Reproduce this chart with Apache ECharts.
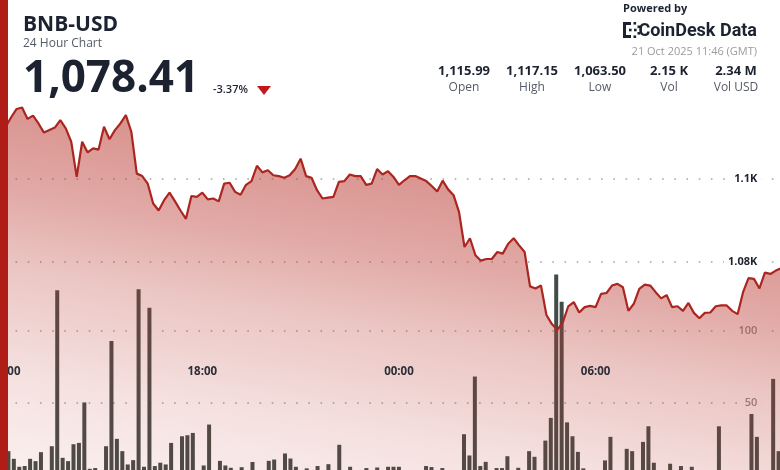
<!DOCTYPE html>
<html>
<head>
<meta charset="utf-8">
<script src="https://cdn.jsdelivr.net/npm/echarts@6/dist/echarts.min.js"></script>
<style>
html,body{margin:0;padding:0;background:#fff;}
#chart{width:780px;height:470px;}
</style>
</head>
<body>
<div id="chart"></div>
<script>
// ---- data (10-minute steps, 24 hours) ----
const times = [
  '12:00','12:10','12:20','12:30','12:40','12:50',
  '13:00','13:10','13:20','13:30','13:40','13:50',
  '14:00','14:10','14:20','14:30','14:40','14:50',
  '15:00','15:10','15:20','15:30','15:40','15:50',
  '16:00','16:10','16:20','16:30','16:40','16:50',
  '17:00','17:10','17:20','17:30','17:40','17:50',
  '18:00','18:10','18:20','18:30','18:40','18:50',
  '19:00','19:10','19:20','19:30','19:40','19:50',
  '20:00','20:10','20:20','20:30','20:40','20:50',
  '21:00','21:10','21:20','21:30','21:40','21:50',
  '22:00','22:10','22:20','22:30','22:40','22:50',
  '23:00','23:10','23:20','23:30','23:40','23:50',
  '00:00','00:10','00:20','00:30','00:40','00:50',
  '01:00','01:10','01:20','01:30','01:40','01:50',
  '02:00','02:10','02:20','02:30','02:40','02:50',
  '03:00','03:10','03:20','03:30','03:40','03:50',
  '04:00','04:10','04:20','04:30','04:40','04:50',
  '05:00','05:10','05:20','05:30','05:40','05:50',
  '06:00','06:10','06:20','06:30','06:40','06:50',
  '07:00','07:10','07:20','07:30','07:40','07:50',
  '08:00','08:10','08:20','08:30','08:40','08:50',
  '09:00','09:10','09:20','09:30','09:40','09:50',
  '10:00','10:10','10:20','10:30','10:40','10:50',
  '11:00','11:10','11:20','11:30','11:40'
];

const prices = [
  1112.5, 1114.8, 1116.8, 1117.15, 1114.4, 1115.2, 1113.3, 1111.1, 1111.7, 1112.3,
  1114.1, 1112.1, 1108.9, 1100.4, 1108.9, 1106.3, 1107.3, 1107.0, 1112.5, 1109.5,
  1111.7, 1113.3, 1115.3, 1111.3, 1101.2, 1100.6, 1098.8, 1094.0, 1092.3, 1094.8,
  1096.6, 1094.5, 1092.3, 1090.3, 1095.8, 1095.6, 1096.6, 1095.0, 1095.2, 1094.5,
  1098.8, 1099.0, 1096.8, 1096.1, 1098.5, 1099.4, 1103.1, 1101.5, 1102.0, 1100.8,
  1100.6, 1100.2, 1100.8, 1102.3, 1104.8, 1100.6, 1100.2, 1097.2, 1095.2, 1095.4,
  1095.6, 1099.2, 1099.4, 1101.0, 1100.6, 1100.6, 1098.5, 1098.8, 1102.3, 1101.0,
  1101.8, 1100.4, 1098.5, 1099.6, 1100.6, 1100.6, 1100.0, 1099.4, 1098.2, 1096.9,
  1099.5, 1097.4, 1096.0, 1091.9, 1083.5, 1085.6, 1081.5, 1080.2, 1080.6, 1080.6,
  1082.3, 1081.9, 1084.3, 1085.6, 1083.9, 1082.3, 1074.0, 1073.5, 1074.2, 1067.1,
  1064.9, 1063.5, 1065.3, 1069.2, 1070.2, 1067.7, 1069.0, 1069.3, 1069.0, 1072.2,
  1072.4, 1074.2, 1074.6, 1073.8, 1068.1, 1069.8, 1073.4, 1074.4, 1074.2, 1072.6,
  1071.1, 1071.9, 1069.0, 1069.2, 1068.1, 1070.0, 1067.6, 1066.3, 1067.6, 1067.7,
  1069.2, 1069.4, 1069.4, 1068.1, 1067.3, 1072.6, 1076.0, 1075.8, 1073.5, 1077.3,
  1077.0, 1077.8, 1078.41
];

const volumes = [
  16.7, 11.4, 5.9, 6.4, 11.4, 9.8, 16.0, 2.5, 20.1, 128.0,
  12.1, 9.8, 21.5, 22.4, 50.4, 4.5, 5.0, 2.0, 20.1, 92.9,
  25.2, 16.7, 7.5, 10.5, 128.7, 5.9, 115.8, 6.4, 8.7, 7.5,
  22.4, 3.0, 27.0, 27.7, 29.3, 2.0, 6.8, 35.1, 2.5, 10.0,
  6.8, 5.2, 1.5, 5.6, 2.0, 9.2, 2.5, 1.5, 10.0, 10.9,
  3.5, 15.1, 11.6, 5.9, 2.0, 4.8, 1.5, 6.4, 2.0, 7.7,
  3.0, 21.1, 2.5, 5.9, 1.5, 2.0, 5.0, 2.5, 5.4, 1.5,
  5.9, 5.9, 5.9, 2.0, 1.5, 3.0, 2.0, 6.4, 5.7, 2.0,
  5.0, 2.5, 1.5, 3.0, 28.4, 13.7, 68.3, 6.4, 9.3, 2.0,
  5.0, 5.0, 13.2, 3.0, 5.2, 3.5, 16.7, 12.8, 2.5, 24.0,
  39.7, 138.8, 120.0, 36.6, 27.0, 16.2, 4.8, 2.0, 3.0, 1.5,
  10.3, 26.6, 2.5, 3.0, 18.3, 16.7, 2.0, 23.1, 33.9, 8.7,
  2.5, 3.0, 8.0, 2.0, 6.4, 1.5, 5.9, 2.0, 3.0, 1.5,
  2.5, 33.9, 2.0, 3.0, 1.5, 2.0, 3.5, 42.4, 26.6, 2.5,
  3.0, 66.7, 16.7
];

const timeTickLabels = ['12:00', '18:00', '00:00', '06:00'];
const priceTicks = [1080, 1100];
const priceTickLabels = ['1.08K', '1.1K'];
const volTicks = [50, 100];
const volTickLabels = ['50', '100'];

const statValues = ['1,115.99', '1,117.15', '1,063.50', '2.15 K', '2.34 M'];
const statNames = ['Open', 'High', 'Low', 'Vol', 'Vol USD'];

// ---- layout / style ----
const FONT = "'Open Sans', 'Noto Sans', sans-serif";
const GL = 5.7, GW = 775.6;
const dotted = { type: [1.6, 10.6], width: 1.5, color: '#a4a4a4', dashOffset: 2.4 };
const tint = (a) => 'rgba(186,58,50,' + a + ')';

const chart = echarts.init(document.getElementById('chart'), null, { renderer: 'canvas' });

const statX = [464, 532, 600, 669, 736];
const statGraphics = [];
statValues.forEach((v, i) => {
  statGraphics.push({ type: 'text', z: 50, style: { text: v, x: statX[i], y: 71.5, textAlign: 'center', textVerticalAlign: 'middle', font: 'bold 13px ' + FONT, fill: '#1c2230' } });
  statGraphics.push({ type: 'text', z: 50, style: { text: statNames[i], x: statX[i], y: 88, textAlign: 'center', textVerticalAlign: 'middle', font: '12px ' + FONT, fill: '#555b66' } });
});

const logoRects = [
  [623, 22, 3, 16], [623, 22, 8, 3], [623, 35, 8, 3],
  [633.5, 22, 2.6, 2.6], [637.5, 25.5, 2.6, 2.6], [629, 28.7, 2.6, 2.6],
  [634, 28.7, 2.6, 2.6], [637.5, 32, 2.6, 2.6], [633.5, 35.4, 2.6, 2.6]
].map(r => ({ type: 'rect', z: 50, shape: { x: r[0], y: r[1], width: r[2], height: r[3] }, style: { fill: '#1c2230' } }));

const option = {
  animation: false,
  backgroundColor: '#ffffff',
  grid: [
    { left: GL, width: GW, top: 95.7, height: 414.5, outerBoundsMode: 'none', containLabel: false },
    { left: GL, width: GW, top: 178.6, height: 82.9, outerBoundsMode: 'none', containLabel: false },
    { left: GL, width: GW, top: 330.7, height: 144.6, outerBoundsMode: 'none', containLabel: false }
  ],
  xAxis: [
    {
      gridIndex: 0, type: 'category', boundaryGap: false, data: times, z: 10,
      axisLine: { show: false }, axisTick: { show: false }, splitLine: { show: false },
      axisLabel: {
        inside: true, margin: 132,
        interval: (idx, val) => timeTickLabels.indexOf(val) >= 0,
        color: '#2b2f3a', fontWeight: 'bold', fontSize: 11.5, fontFamily: FONT
      }
    },
    { gridIndex: 1, type: 'value', min: 0, max: 1, show: false },
    { gridIndex: 2, type: 'category', boundaryGap: true, data: times, show: false }
  ],
  yAxis: [
    { gridIndex: 0, type: 'value', min: 1020, max: 1120, show: false },
    {
      gridIndex: 1, type: 'value', min: 1080, max: 1100, interval: 20, position: 'right',
      axisLine: { show: false }, axisTick: { show: false },
      splitLine: { show: true, lineStyle: dotted },
      axisLabel: {
        inside: true, margin: 20, color: '#1c2230', fontWeight: 'bold', fontSize: 11, fontFamily: FONT,
        backgroundColor: '#ffffff', padding: [2, 4],
        formatter: (v) => { const k = priceTicks.indexOf(v); return k >= 0 ? priceTickLabels[k] : ''; }
      }
    },
    {
      gridIndex: 2, type: 'value', min: 0, max: 100, interval: 50, position: 'right',
      axisLine: { show: false }, axisTick: { show: false },
      splitLine: { show: true, lineStyle: dotted },
      axisLabel: {
        inside: true, margin: 20, showMinLabel: false, color: '#8e8e8e', fontWeight: 600, fontSize: 11, fontFamily: FONT,
        backgroundColor: '#ffffff', padding: [2, 4],
        formatter: (v) => { const k = volTicks.indexOf(v); return k >= 0 ? volTickLabels[k] : ''; }
      }
    }
  ],
  series: [
    {
      type: 'bar', xAxisIndex: 2, yAxisIndex: 2, data: volumes, barWidth: 4, clip: false,
      itemStyle: { color: '#434c46' }
    },
    {
      type: 'line', xAxisIndex: 0, yAxisIndex: 0, data: prices, symbol: 'none',
      lineStyle: { color: '#ab2620', width: 2.2 },
      areaStyle: {
        origin: 'start',
        color: {
          type: 'linear', global: true, x: 560, y: 60, x2: 480, y2: 540,
          colorStops: [
            { offset: 0, color: tint(0.9) },
            { offset: 0.25, color: tint(0.8) },
            { offset: 0.45, color: tint(0.62) },
            { offset: 0.6, color: tint(0.42) },
            { offset: 0.82, color: tint(0.22) },
            { offset: 1, color: tint(0.12) }
          ]
        }
      }
    }
  ],
  graphic: [
    { type: 'rect', z: 100, shape: { x: 0, y: 0, width: 8, height: 470 }, style: { fill: '#b01c16' } },
    { type: 'text', z: 50, style: { text: 'BNB-USD', x: 23, y: 25.5, textVerticalAlign: 'middle', font: 'bold 21px ' + FONT, fill: '#1c2230' } },
    { type: 'text', z: 50, style: { text: '24 Hour Chart', x: 23, y: 44, textVerticalAlign: 'middle', font: '12px ' + FONT, fill: '#555b66' } },
    { type: 'text', z: 50, style: { text: '1,078.41', x: 23, y: 79, textVerticalAlign: 'middle', font: 'bold 44px ' + FONT, fill: '#1c2230' } },
    { type: 'text', z: 50, style: { text: '-3.37%', x: 213, y: 89.5, textVerticalAlign: 'middle', font: '600 11px ' + FONT, fill: '#1c2230' } },
    { type: 'polygon', z: 50, shape: { points: [[257, 86], [271, 86], [264, 95]] }, style: { fill: '#c0171a' } },
    { type: 'text', z: 50, style: { text: 'Powered by', x: 623, y: 9, textVerticalAlign: 'middle', font: 'bold 11px ' + FONT, fill: '#1c2230' } },
    { type: 'text', z: 50, style: { text: 'CoinDesk Data', x: 757, y: 31, textAlign: 'right', textVerticalAlign: 'middle', font: 'bold 18px Roboto, ' + FONT, fill: '#1c2230' } },
    { type: 'text', z: 50, style: { text: '21 Oct 2025 11:46 (GMT)', x: 757, y: 52, textAlign: 'right', textVerticalAlign: 'middle', font: '11px ' + FONT, fill: '#9b9b9b' } }
  ].concat(logoRects, statGraphics)
};

chart.setOption(option);
</script>
</body>
</html>
